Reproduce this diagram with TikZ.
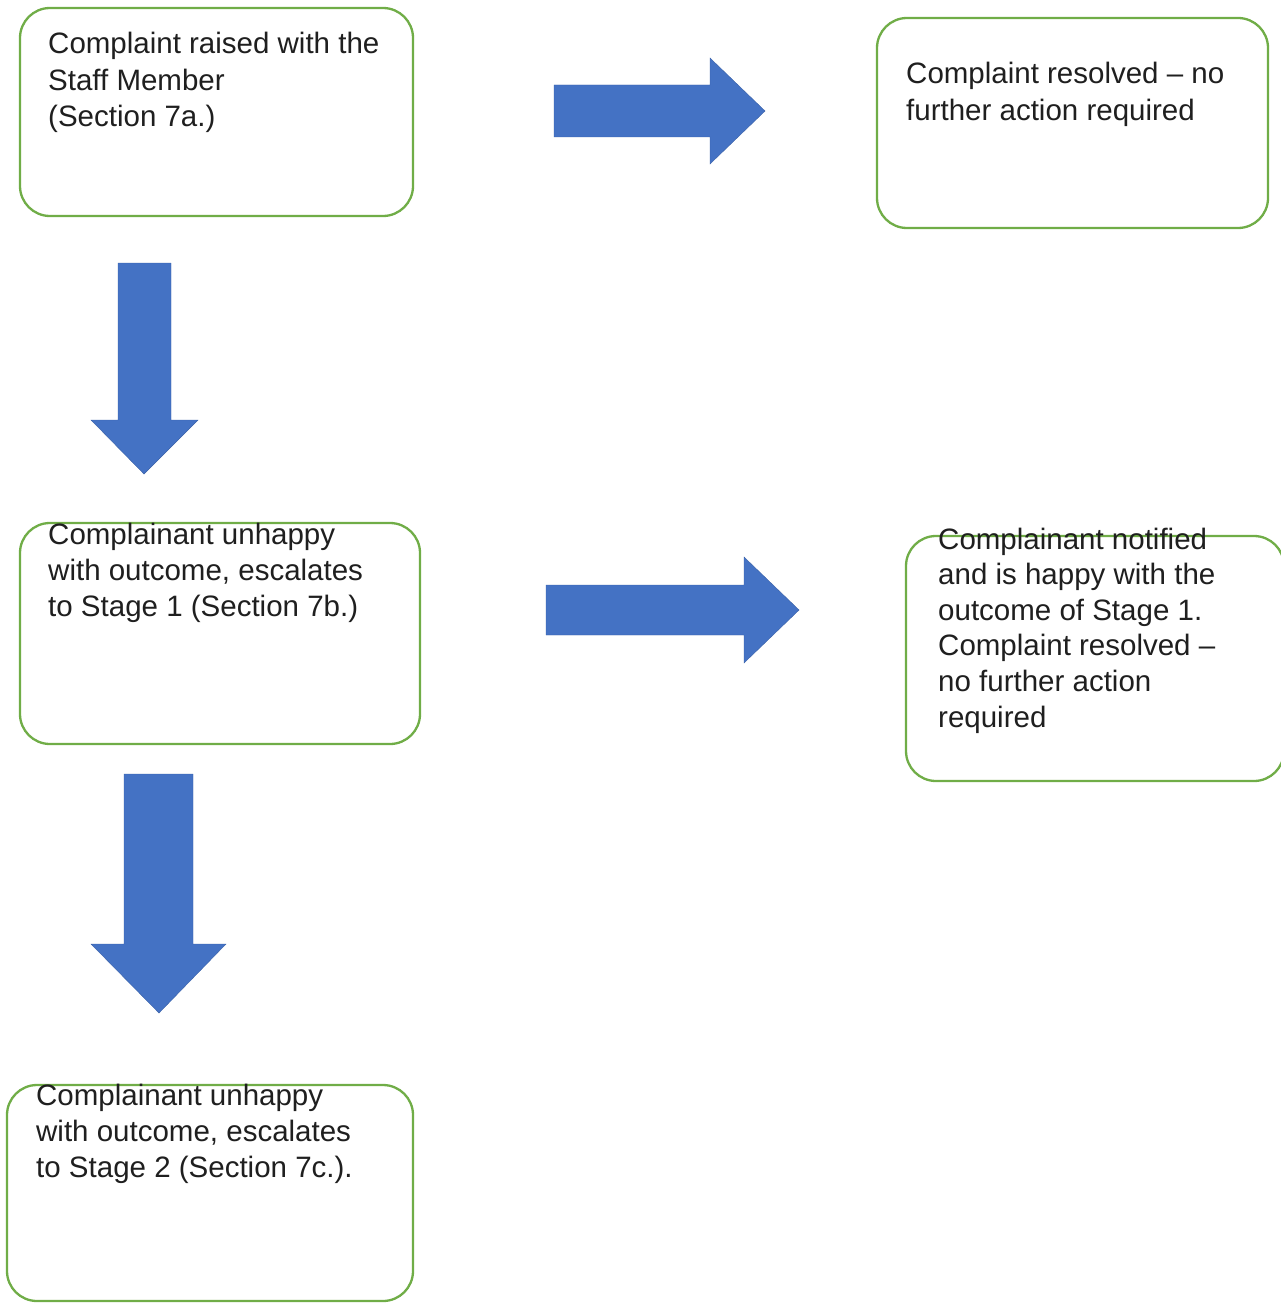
\documentclass[tikz,border=0pt]{standalone}
\usepackage{fontspec}
\setmainfont{Liberation Sans}
\definecolor{boxgreen}{HTML}{70AD47}
\definecolor{arrowblue}{HTML}{4472C4}
\definecolor{txt}{HTML}{1F1F1F}
\begin{document}
\begin{tikzpicture}[x=1pt,y=-1pt,
  box/.style={draw=boxgreen,line width=2.3pt,rounded corners=30pt,fill=white},
  label/.style={anchor=base west,inner sep=0pt,align=left,text=txt,
    font=\fontsize{29.5}{36.2}\selectfont},
  blockarrow/.style={fill=arrowblue,draw=arrowblue!85!black,line width=0.4pt}]
\useasboundingbox (0,0) rectangle (1281,1303);
\clip (0,0) rectangle (1281,1303);
% boxes
\draw[box] (20,8) rectangle (413,216);
\coordinate (b1) at (216,112);
\draw[box] (877,18) rectangle (1268,228);
\coordinate (b2) at (1072,123);
\draw[box] (20,523) rectangle (420,744);
\coordinate (b3) at (220,633);
\draw[box] (906,536) rectangle (1284,781);
\coordinate (b4) at (1095,658);
\draw[box] (7,1085) rectangle (413,1301);
\coordinate (b5) at (210,1193);
% texts (anchor at baseline of the last line)
\node[label] (t1) at (48,126.4) {Complaint raised with the\\Staff Member\\(Section 7a.)};
\node[label] (t2) at (906,120.2) {Complaint resolved – no\\further action required};
\node[label] (t3) at (48,616.4) {Complainant unhappy\\with outcome, escalates\\to Stage 1 (Section 7b.)};
\node[label,font=\fontsize{29.5}{35.6}\selectfont] (t4) at (938,727) {Complainant notified\\and is happy with the\\outcome of Stage 1.\\Complaint resolved –\\no further action\\required};
\node[label] (t5) at (36,1177.4) {Complainant unhappy\\with outcome, escalates\\to Stage 2 (Section 7c.).};
% block arrows
\draw[blockarrow] (554,85) -- (710,85) -- (710,58) -- (765,111) -- (710,164) -- (710,137) -- (554,137) -- cycle;
\draw[blockarrow] (118,263) -- (171,263) -- (171,420) -- (198,420) -- (144,474) -- (91,420) -- (118,420) -- cycle;
\draw[blockarrow] (546,585) -- (744,585) -- (744,557) -- (799,610) -- (744,663) -- (744,635) -- (546,635) -- cycle;
\draw[blockarrow] (124,774) -- (193,774) -- (193,944) -- (226,944) -- (159,1013) -- (91,944) -- (124,944) -- cycle;
\end{tikzpicture}
\end{document}
